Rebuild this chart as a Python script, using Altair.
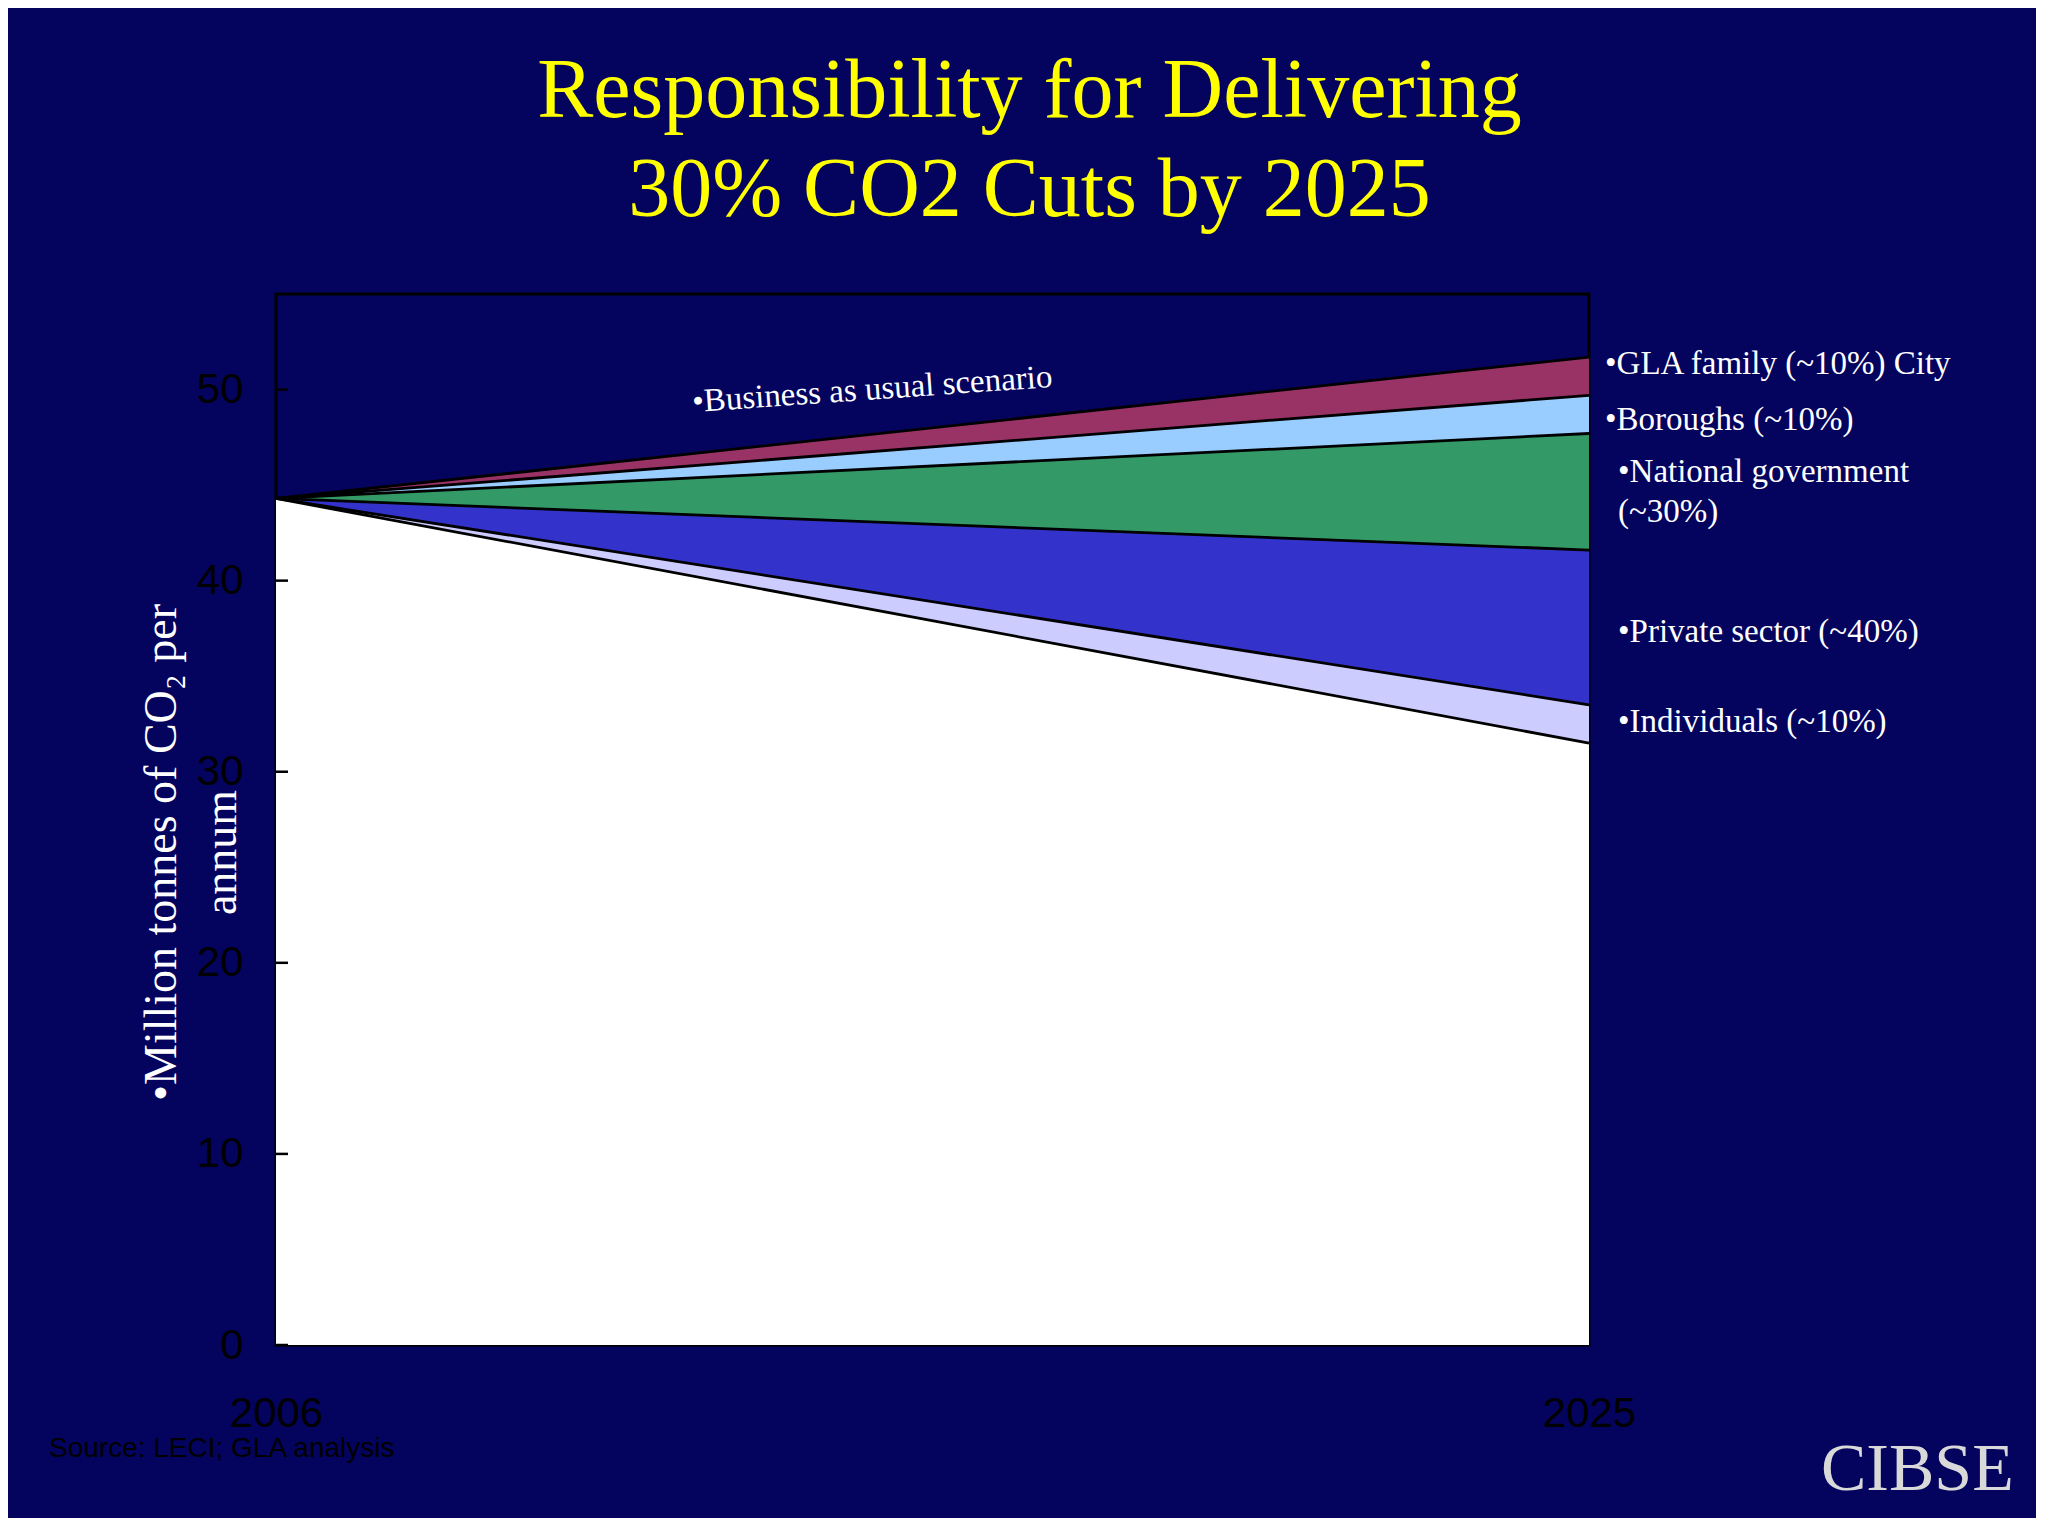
import altair as alt
import pandas as pd

# ---------------- data ----------------
years = [2006, 2025]
bau = [44.3, 51.7]            # business-as-usual line (top of GLA band)
gla_low = [44.3, 49.7]        # GLA / Boroughs boundary
boroughs_low = [44.3, 47.7]   # Boroughs / National government boundary
national_low = [44.3, 41.6]   # National government / Private sector boundary
private_low = [44.3, 33.5]    # Private sector / Individuals boundary
target = [44.3, 31.5]         # 30% cut pathway (bottom of Individuals band)
zero_line = [0, 0]

band_names = ["Remaining emissions", "Individuals", "Private sector",
              "National government", "Boroughs", "GLA family"]
band_colors = ["#FFFFFF", "#CCCCFF", "#3333CC", "#339966", "#99CCFF", "#993366"]

y_ticks = [0, 10, 20, 30, 40, 50]
x_ticks = [2006, 2025]

title_lines = ["Responsibility for Delivering", "30% CO2 Cuts by 2025"]
y_title = ["\u2022Million tonnes of CO\u2082 per", "annum"]

# ---------------- tables built from the arrays ----------------
lows = [zero_line, target, private_low, national_low, boroughs_low, gla_low]
highs = [target, private_low, national_low, boroughs_low, gla_low, bau]
band_rows = []
for name, lo, hi in zip(band_names, lows, highs):
    for i, yr in enumerate(years):
        band_rows.append({"year": yr, "low": lo[i], "high": hi[i], "band": name})
bands_df = pd.DataFrame(band_rows)

boundaries = {"bau": bau, "gla": gla_low, "boroughs": boroughs_low,
              "national": national_low, "private": private_low, "target": target}
line_rows = []
for key, vals in boundaries.items():
    for i, yr in enumerate(years):
        line_rows.append({"year": yr, "low": vals[i], "line": key})
lines_df = pd.DataFrame(line_rows)

ticks_df = pd.DataFrame({"low": y_ticks})

W, H = 1313, 1051

x_scale = alt.Scale(domain=[2006, 2025], nice=False, zero=False)
y_scale = alt.Scale(domain=[0, 55], nice=False)

x_axis = alt.Axis(values=x_ticks, format="d", title=None, grid=False,
                  ticks=False, domain=False, labelFontSize=42,
                  labelFont="Liberation Sans", labelColor="black",
                  labelPadding=48, labelFlush=False, labelOverlap=False)
y_axis = alt.Axis(values=y_ticks, grid=False, ticks=False, tickSize=0,
                  domain=False, labelFontSize=42,
                  labelFont="Liberation Sans", labelColor="black",
                  labelPadding=33,
                  title=y_title, titleFont="Liberation Serif",
                  titleFontSize=46, titleFontWeight="normal",
                  titleColor="white", titleAngle=270,
                  titleAlign="center", titleBaseline="alphabetic",
                  titleLineHeight=60, titleX=-101, titleY=558)

x_enc = alt.X("year:Q", scale=x_scale, axis=x_axis)
y_enc = alt.Y("low:Q", scale=y_scale, axis=y_axis)

areas = alt.Chart(bands_df).mark_area(opacity=1, strokeWidth=0).encode(
    x=x_enc,
    y=y_enc,
    y2="high:Q",
    color=alt.Color("band:N", scale=alt.Scale(domain=band_names, range=band_colors),
                    legend=None),
    order=alt.Order("band:N"),
)

lines = alt.Chart(lines_df).mark_line(color="black", strokeWidth=2.8).encode(
    x=x_enc,
    y=y_enc,
    detail="line:N",
)

inner_ticks = alt.Chart(ticks_df).mark_rule(color="black", strokeWidth=2.5).encode(
    y=y_enc,
    x=alt.value(0),
    x2=alt.value(12),
)


def label(text, px, py, size=33, color="white", font="Liberation Serif",
          angle=0, align="left"):
    mk = dict(text=text, font=font, fontSize=size, color=color, align=align,
              baseline="alphabetic")
    if angle:
        mk["angle"] = angle
    return alt.Chart(alt.Data(values=[{}])).mark_text(**mk).encode(
        x=alt.value(px), y=alt.value(py))


annotations = [
    label("\u2022GLA family (~10%) City", 1329, 80),
    label("\u2022Boroughs (~10%)", 1329, 136),
    label("\u2022National government", 1342, 188),
    label("(~30%)", 1342, 228),
    label("\u2022Private sector (~40%)", 1342, 348),
    label("\u2022Individuals (~10%)", 1342, 438),
    label("\u2022Business as usual scenario", 417, 118, angle=356),
    label("Source: LECI; GLA analysis", -227, 1163, size=28, color="black",
          font="Liberation Sans"),
    label("CIBSE", 1545, 1196, size=68, color="#D9D9D9"),
]

chart = alt.layer(areas, lines, inner_ticks, *annotations).properties(
    width=W,
    height=H,
    autosize=alt.AutoSizeParams(type="none"),
    padding={"left": 268, "top": 286, "right": 447, "bottom": 173},
    background="#04045f",
    title=alt.TitleParams(text=title_lines, font="Liberation Serif", fontSize=84,
                          fontWeight="normal", color="#FFFF00", anchor="middle",
                          frame="group", dx=97, offset=60, lineHeight=99),
).configure_view(
    stroke="black", strokeWidth=3
)

chart.save("out.html", embed_options={"renderer": "svg", "actions": False})
